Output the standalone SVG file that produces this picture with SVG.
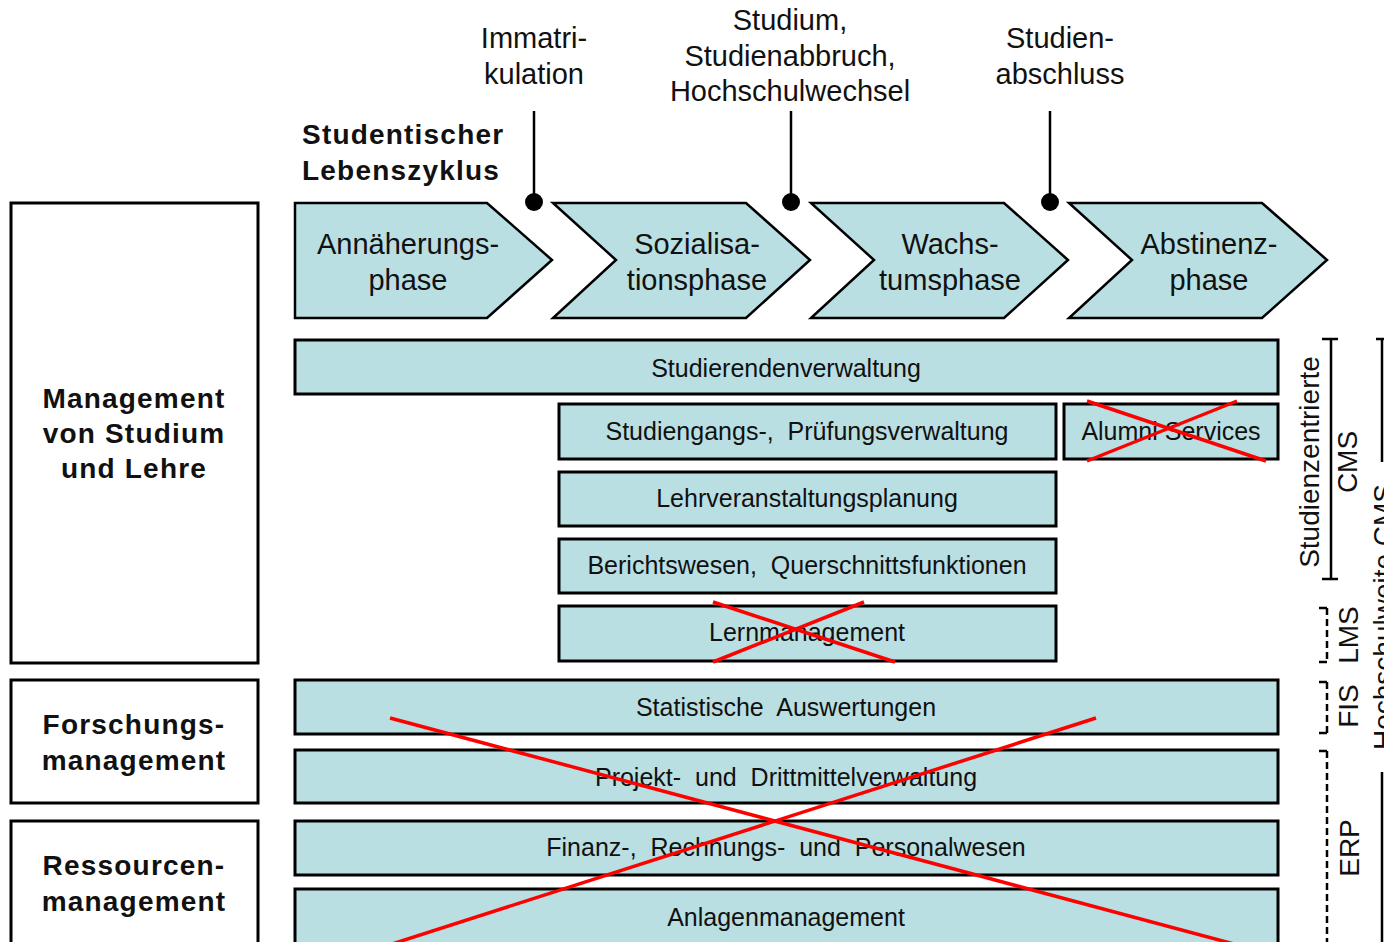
<svg xmlns="http://www.w3.org/2000/svg" width="1384" height="942" viewBox="0 0 1384 942">
<style>
.t{font-family:"Liberation Sans",Arial,sans-serif;fill:#111;text-anchor:middle;white-space:pre}
.b{font-size:25px}
.p{font-size:29px}
.r{font-size:28px}
.h{font-size:28px;font-weight:bold;letter-spacing:1.2px}
.box{fill:#fff;stroke:#000;stroke-width:3}
.bar{fill:#b9dfe3;stroke:#000;stroke-width:3}
.chev{fill:#b9dfe3;stroke:#000;stroke-width:2.5;stroke-linejoin:miter}
.pin{stroke:#000;stroke-width:2.5}
.x{stroke:#f00;stroke-width:3.5}
.br{fill:none;stroke:#000;stroke-width:2.5}
.dash{fill:none;stroke:#000;stroke-width:2.5;stroke-dasharray:7 4}
</style>
<rect width="1384" height="942" fill="#fff"/>

<g id="title">
<text class="t h" x="302" y="144" style="text-anchor:start">Studentischer</text>
<text class="t h" x="302" y="180" style="text-anchor:start">Lebenszyklus</text>
</g>

<g id="connectors">
<line class="pin" x1="534" y1="111" x2="534" y2="202"/>
<circle cx="534" cy="202" r="9"/>
<line class="pin" x1="791" y1="111" x2="791" y2="202"/>
<circle cx="791" cy="202" r="9"/>
<line class="pin" x1="1050" y1="111" x2="1050" y2="202"/>
<circle cx="1050" cy="202" r="9"/>
</g>

<g id="event-immatrikulation">
<text class="t p" x="534" y="48">Immatri-</text>
<text class="t p" x="534" y="84">kulation</text>
</g>
<g id="event-studium">
<text class="t p" x="790" y="30">Studium,</text>
<text class="t p" x="790" y="66">Studienabbruch,</text>
<text class="t p" x="790" y="101">Hochschulwechsel</text>
</g>
<g id="event-abschluss">
<text class="t p" x="1060" y="48">Studien-</text>
<text class="t p" x="1060" y="84">abschluss</text>
</g>

<g id="phase1">
<polygon class="chev" points="295,203 487,203 552,260 487,318 295,318"/>
<text class="t p" x="408" y="254">Annäherungs-</text>
<text class="t p" x="408" y="290">phase</text>
</g>
<g id="phase2">
<polygon class="chev" points="553,203 746,203 810,260 746,318 553,318 616,260"/>
<text class="t p" x="697" y="254">Sozialisa-</text>
<text class="t p" x="697" y="290">tionsphase</text>
</g>
<g id="phase3">
<polygon class="chev" points="811,203 1004,203 1068,260 1004,318 811,318 874,260"/>
<text class="t p" x="950" y="254">Wachs-</text>
<text class="t p" x="950" y="290">tumsphase</text>
</g>
<g id="phase4">
<polygon class="chev" points="1069,203 1262,203 1327,260 1262,318 1069,318 1132,260"/>
<text class="t p" x="1209" y="254">Abstinenz-</text>
<text class="t p" x="1209" y="290">phase</text>
</g>

<g id="area-studium">
<rect class="box" x="11" y="203" width="247" height="460"/>
<text class="t h" x="134" y="408">Management</text>
<text class="t h" x="134" y="443">von Studium</text>
<text class="t h" x="134" y="478">und Lehre</text>
</g>
<g id="area-forschung">
<rect class="box" x="11" y="680" width="247" height="123"/>
<text class="t h" x="134" y="734">Forschungs-</text>
<text class="t h" x="134" y="770">management</text>
</g>
<g id="area-ressourcen">
<rect class="box" x="11" y="821" width="247" height="130"/>
<text class="t h" x="134" y="875">Ressourcen-</text>
<text class="t h" x="134" y="911">management</text>
</g>

<g id="studierendenverwaltung">
<rect class="bar" x="295" y="340" width="983" height="54"/>
<text class="t b" x="786" y="377">Studierendenverwaltung</text>
</g>
<g id="pruefungsverwaltung">
<rect class="bar" x="559" y="404" width="497" height="55"/>
<text class="t b" x="807" y="440" xml:space="preserve">Studiengangs-,  Prüfungsverwaltung</text>
</g>
<g id="alumni">
<rect class="bar" x="1064" y="404" width="214" height="55"/>
<text class="t b" x="1171" y="440">Alumni Services</text>
<line class="x" x1="1087" y1="401" x2="1266" y2="461"/>
<line class="x" x1="1237" y1="401" x2="1087" y2="461"/>
</g>
<g id="lehrveranstaltung">
<rect class="bar" x="559" y="472" width="497" height="54"/>
<text class="t b" x="807" y="507">Lehrveranstaltungsplanung</text>
</g>
<g id="berichtswesen">
<rect class="bar" x="559" y="539" width="497" height="54"/>
<text class="t b" x="807" y="574" xml:space="preserve">Berichtswesen,  Querschnittsfunktionen</text>
</g>
<g id="lernmanagement">
<rect class="bar" x="559" y="606" width="497" height="55"/>
<text class="t b" x="807" y="641">Lernmanagement</text>
<line class="x" x1="713" y1="602" x2="895" y2="662"/>
<line class="x" x1="864" y1="602" x2="713" y2="662"/>
</g>
<g id="statistik">
<rect class="bar" x="295" y="680" width="983" height="54"/>
<text class="t b" x="786" y="716" xml:space="preserve">Statistische  Auswertungen</text>
</g>
<g id="projekt">
<rect class="bar" x="295" y="750" width="983" height="53"/>
<text class="t b" x="786" y="786" xml:space="preserve">Projekt-  und  Drittmittelverwaltung</text>
</g>
<g id="finanz">
<rect class="bar" x="295" y="821" width="983" height="54"/>
<text class="t b" x="786" y="856" xml:space="preserve">Finanz-,  Rechnungs-  und  Personalwesen</text>
</g>
<g id="anlagen">
<rect class="bar" x="295" y="889" width="983" height="60"/>
<text class="t b" x="786" y="926">Anlagenmanagement</text>
</g>
<g id="big-cross">
<line class="x" x1="390" y1="718" x2="1234" y2="944"/>
<line class="x" x1="1096" y1="718" x2="392" y2="944"/>
</g>

<g id="bracket-cms">
<path class="br" d="M1322,339 H1338 M1331,339 V579 M1322,579 H1338"/>
<text class="t r" transform="translate(1319,462) rotate(-90)">Studienzentrierte</text>
<text class="t r" transform="translate(1357,462) rotate(-90)">CMS</text>
</g>
<g id="bracket-lms">
<path class="br" d="M1319,608 H1327 M1319,662 H1327"/>
<path class="dash" d="M1327,608 V662"/>
<text class="t r" transform="translate(1358,635) rotate(-90)">LMS</text>
</g>
<g id="bracket-fis">
<path class="br" d="M1319,682 H1327 M1319,733 H1327"/>
<path class="dash" d="M1327,682 V733"/>
<text class="t r" transform="translate(1358,706) rotate(-90)">FIS</text>
</g>
<g id="bracket-erp">
<path class="br" d="M1319,751 H1327"/>
<path class="dash" d="M1327,751 V942"/>
<text class="t r" transform="translate(1359,848) rotate(-90)">ERP</text>
</g>
<g id="bracket-hochschul">
<path class="br" d="M1376,339 H1384 M1382,339 V462 M1382,772 V942"/>
<text class="t r" transform="translate(1393,617) rotate(-90)">Hochschulweite CMS</text>
</g>
</svg>
